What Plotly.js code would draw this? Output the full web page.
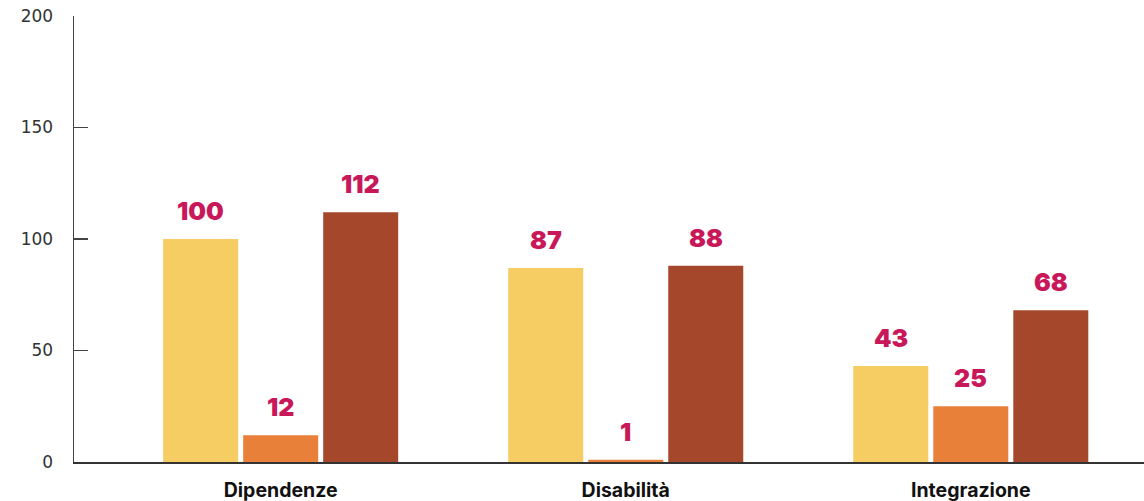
<!DOCTYPE html>
<html><head><meta charset="utf-8">
<script src="https://cdn.plot.ly/plotly-3.0.1.min.js"></script>
<style>html,body{margin:0;padding:0;background:#fff}#chart{width:1144px;height:501px}</style>
</head><body><div id="chart"></div>
<script>
const categories = ["Dipendenze", "Disabilità", "Integrazione"];
const seriesA = [100, 87, 43];
const seriesB = [12, 1, 25];
const seriesC = [112, 88, 68];
const yTicks = [0, 50, 100, 150, 200];

const colors = ["#F6CD63", "#E8803A", "#A5472A"];
const labelColor = "#C8185A";
const allSeries = [seriesA, seriesB, seriesC];
const shifts = [-80, 0, 80];

const traces = allSeries.map((s, i) => ({
  type: "bar", x: categories, y: s, marker: {color: colors[i]},
  hoverinfo: "skip", showlegend: false
}));

const annotations = [];
allSeries.forEach((s, i) => {
  s.forEach((v, j) => {
    annotations.push({
      x: categories[j], y: v, xref: "x", yref: "y", text: String(v),
      showarrow: false, xshift: shifts[i], yanchor: "bottom", yshift: 11,
      font: {family: "Inter", size: 25, weight: 900, color: labelColor}
    });
  });
});

const layout = {
  width: 1144, height: 501,
  margin: {l: 74, r: 0, t: 16, b: 39},
  paper_bgcolor: "#fff", plot_bgcolor: "#fff",
  barmode: "group", bargap: 0.3043, bargroupgap: 0.0625,
  xaxis: {
    type: "category", range: [-0.599, 2.502], showgrid: false, zeroline: false,
    showline: true, linecolor: "#333", linewidth: 1.5, ticks: "",
    ticklabelstandoff: 10,
    tickfont: {family: "Inter", size: 19.5, weight: 700, color: "#111"}
  },
  yaxis: {
    range: [0, 200], tickvals: yTicks, showgrid: false, zeroline: false,
    showline: true, linecolor: "#444", linewidth: 1.5,
    ticks: "inside", ticklen: 14, tickwidth: 1.5, tickcolor: "#444",
    ticklabelstandoff: 16,
    tickfont: {family: "DejaVu Sans", size: 17, color: "#333"}
  },
  annotations: annotations
};

Plotly.newPlot("chart", traces, layout, {displayModeBar: false, staticPlot: true});
</script></body></html>
